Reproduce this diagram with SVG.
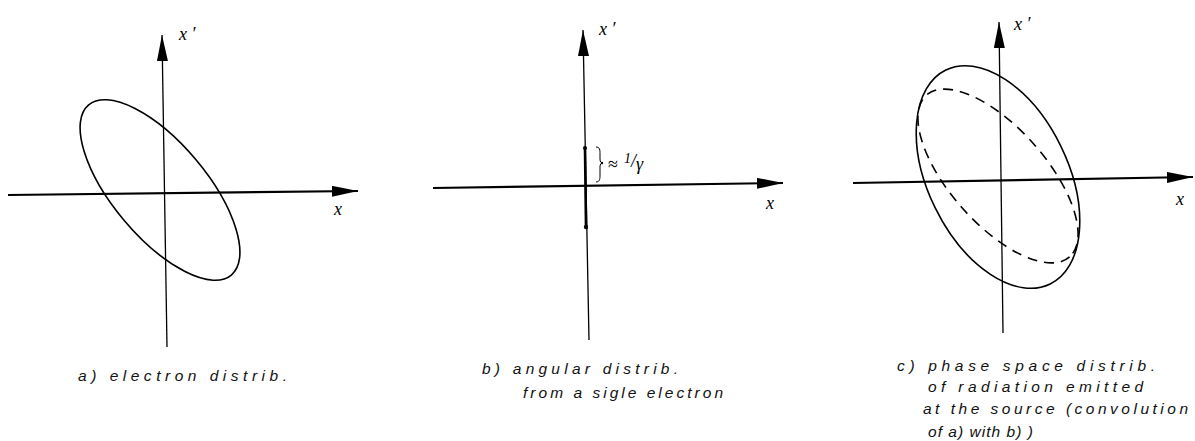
<svg xmlns="http://www.w3.org/2000/svg" width="1195" height="441" viewBox="0 0 1195 441">
<style>
.ax{stroke:#000;fill:none}
.h{stroke-width:2.2}
.v{stroke-width:1.3}
.el{fill:none;stroke:#000;stroke-width:1.6}
.dash{fill:none;stroke:#000;stroke-width:1.6;stroke-dasharray:10 7}
.cap{font-family:"Liberation Sans",Arial,sans-serif;font-style:italic;font-size:15.5px;fill:#111}
.lab{font-family:"Liberation Serif","Times New Roman",serif;font-style:italic;font-size:18px;fill:#000}
</style>
<defs>
<marker id="ah" viewBox="0 0 26 11" refX="26" refY="5.5" markerWidth="26" markerHeight="11" markerUnits="userSpaceOnUse" orient="auto">
<path d="M0,0 L26,5.5 L0,11 z" fill="#000"/>
</marker>
</defs>
<rect width="1195" height="441" fill="#fff"/>

<g id="panel-a">
<line class="ax h" x1="8" y1="195" x2="358" y2="191" marker-end="url(#ah)"/>
<line class="ax v" x1="167" y1="347" x2="162" y2="35" marker-end="url(#ah)"/>
<ellipse class="el" cx="160" cy="190" rx="111" ry="47" transform="rotate(50 160 190)"/>
<text class="lab" x="179" y="40">x ′</text>
<text class="lab" x="334" y="215">x</text>
<text class="cap" x="78" y="381" textLength="209" lengthAdjust="spacing">a) electron distrib.</text>
</g>

<g id="panel-b">
<line class="ax h" x1="433" y1="188" x2="783" y2="183" marker-end="url(#ah)"/>
<line class="ax v" x1="589" y1="340" x2="583" y2="30" marker-end="url(#ah)"/>
<line stroke="#000" stroke-width="2.6" x1="585" y1="148" x2="586" y2="227"/>
<circle cx="585" cy="148" r="2" fill="#000"/>
<circle cx="586" cy="227" r="2.2" fill="#000"/>
<path class="ax" stroke-width="1" d="M596,147 C600,147 600,150 600,154 L600,159 C600,162 601,163 603,163 C601,163 600,164 600,167 L600,176 C600,180 599,182 596,182"/>
<circle cx="602" cy="163" r="1.2" fill="#000"/>
<text class="lab" x="608" y="170" font-size="19" style="font-style:normal">≈</text>
<text class="lab" x="624" y="167" font-size="19"><tspan font-size="14" dy="-4">1</tspan><tspan dy="4">/</tspan><tspan dy="3">γ</tspan></text>
<text class="lab" x="766" y="209">x</text>
<text class="lab" x="599" y="35">x ′</text>
<text class="cap" x="482" y="374" textLength="196" lengthAdjust="spacing">b) angular distrib.</text>
<text class="cap" x="523" y="398" textLength="200" lengthAdjust="spacing">from a sigle electron</text>
</g>

<g id="panel-c">
<line class="ax h" x1="853" y1="183" x2="1193" y2="177" marker-end="url(#ah)"/>
<line class="ax v" x1="1003" y1="333" x2="999" y2="22" marker-end="url(#ah)"/>
<ellipse class="el" stroke-width="1.4" cx="998" cy="177" rx="119" ry="70" transform="rotate(64 998 177)"/>
<ellipse class="dash" cx="998" cy="176" rx="108" ry="48" transform="rotate(48.5 998 176)"/>
<text class="lab" x="1014" y="30">x ′</text>
<text class="lab" x="1176" y="205">x</text>
<text class="cap" x="897" y="371" textLength="258" lengthAdjust="spacing">c) phase space distrib.</text>
<text class="cap" x="928" y="392" textLength="215" lengthAdjust="spacing">of radiation emitted</text>
<text class="cap" x="923" y="414" textLength="265" lengthAdjust="spacing">at the source (convolution</text>
<text class="cap" x="928" y="437" textLength="105" lengthAdjust="spacing">of a) with b) )</text>
</g>
</svg>
